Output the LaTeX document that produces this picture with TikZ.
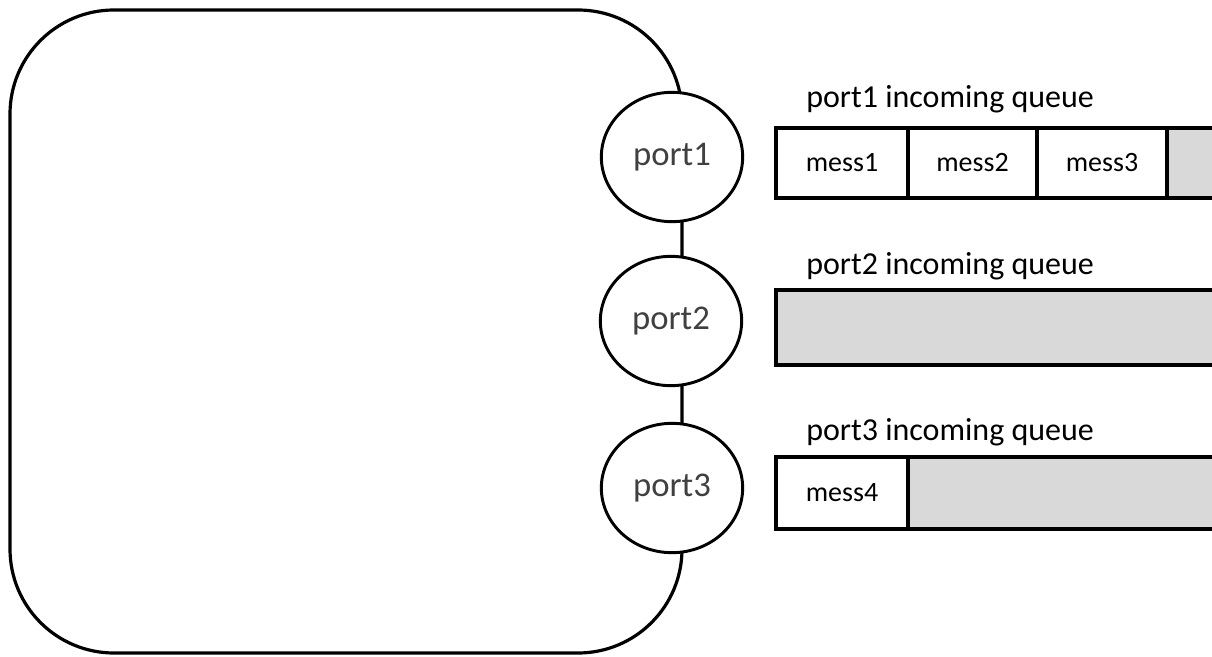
\documentclass[tikz,border=0pt]{standalone}
\usepackage{fontspec}
\setmainfont{Carlito}
\usetikzlibrary{shapes.geometric}
\definecolor{qgrey}{RGB}{217,217,217}
\definecolor{porttext}{RGB}{64,64,64}
\tikzset{
  body/.style={line width=2.4pt, rounded corners=78pt},
  portnode/.style={ellipse, draw, line width=2.2pt, fill=white, inner sep=0pt,
    minimum width=106pt, minimum height=97pt, text=porttext,
    font=\fontsize{26}{30}\selectfont},
  qline/.style={line width=3pt},
  qempty/.style={qline, fill=qgrey},
  cell/.style={draw, line width=3pt, fill=white, inner sep=0pt,
    minimum width=#1, minimum height=52.5pt, font=\fontsize{21}{24}\selectfont},
  qlabel/.style={anchor=base west, inner sep=0pt, font=\fontsize{24}{28}\selectfont}
}
\begin{document}
\begin{tikzpicture}[x=0.75pt,y=-0.75pt]
\useasboundingbox (0,0) rectangle (1212,656);
% component body
\draw[body] (10,10) rectangle (682,653);
% ports
\node[portnode] (p1) at (672,157) {port1};
\node[portnode] (p2) at (671,321) {port2};
\node[portnode] (p3) at (672,488) {port3};
% queue labels
\node[qlabel] (l1) at (806,108) {port1 incoming queue};
\node[qlabel] (l2) at (806,274) {port2 incoming queue};
\node[qlabel] (l3) at (806,440) {port3 incoming queue};
% queue 1
\draw[qempty] (776,128) rectangle (1230,198);
\node[cell=99pt] (m1) at (842,163) {mess1};
\node[cell=96.75pt] (m2) at (972.5,163) {mess2};
\node[cell=97.5pt] (m3) at (1102,163) {mess3};
% queue 2
\draw[qempty] (776,290) rectangle (1230,365);
% queue 3
\draw[qempty] (776,457) rectangle (1230,529);
\node[cell=99pt, minimum height=54pt] (m4) at (842,493) {mess4};
\end{tikzpicture}
\end{document}
